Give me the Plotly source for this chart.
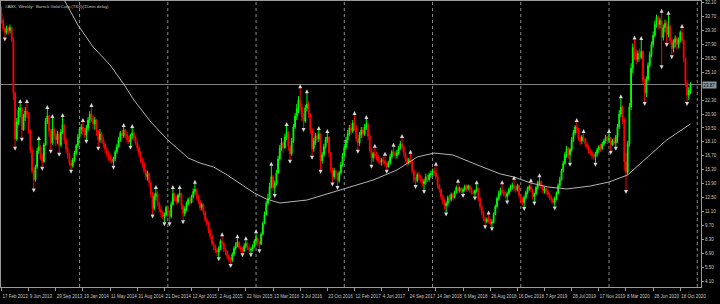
import pandas as pd
import plotly.graph_objects as go

# ---------------- data ----------------
title_text = "#ABX, Weekly:  Barrick Gold Corp (TSX)(15min delay)"
first_open = 31.0

close = [
 30.3, 29.5, 29.1, 29.5, 29.3, 29.6, 28.4, 23.0, 18.4, 20.1,
 21.3, 21.5, 19.3, 20.6, 21.2, 20.9, 19.2, 17.3, 15.2, 14.3,
 15.6, 17.2, 17.6, 16.6, 16.1, 17.8, 20.2, 20.7, 19.2, 18.0,
 19.4, 18.7, 18.3, 18.9, 17.8, 19.1, 19.8, 18.3, 17.4, 16.8,
 16.0, 15.7, 16.3, 17.0, 17.7, 18.6, 19.4, 19.6, 19.2, 18.8,
 19.5, 20.3, 20.9, 20.5, 19.9, 20.3, 19.2, 18.3, 18.9, 18.4,
 17.9, 17.4, 17.0, 16.6, 16.3, 16.1, 16.4, 17.1, 17.6, 18.3,
 19.0, 18.7, 19.3, 18.9, 18.3, 18.1, 18.8, 19.0, 18.5, 18.0,
 17.5, 17.0, 16.3, 15.9, 15.2, 14.6, 14.9, 14.0, 12.9, 11.4,
 12.6, 12.9, 11.9, 11.3, 11.0, 10.6, 10.8, 11.5, 11.0, 10.6,
 11.8, 12.9, 12.4, 12.1, 12.7, 12.9, 11.7, 10.9, 11.4, 11.9,
 12.3, 12.0, 12.6, 13.1, 13.3, 12.6, 12.1, 11.5, 11.8, 11.0,
 10.3, 9.9, 9.2, 8.6, 7.9, 7.6, 7.2, 7.0, 7.4, 8.1,
 7.9, 7.3, 7.1, 6.6, 6.3, 6.2, 6.8, 7.4, 7.7, 8.0,
 7.5, 7.3, 7.1, 7.6, 7.9, 7.4, 7.2, 7.3, 7.6, 8.1,
 8.4, 7.9, 7.8, 8.8, 9.9, 10.8, 11.9, 12.4, 13.6, 14.6,
 13.5, 13.9, 15.0, 16.4, 17.5, 18.0, 17.5, 18.6, 19.1, 17.6,
 16.9, 18.2, 19.6, 20.7, 21.4, 22.3, 21.6, 20.6, 20.2, 21.5,
 21.9, 20.9, 19.3, 17.4, 18.2, 18.7, 18.4, 18.9, 16.2, 16.8,
 17.6, 18.3, 18.6, 17.0, 15.4, 14.6, 15.2, 14.9, 14.2, 15.0,
 15.8, 16.7, 17.5, 18.3, 18.9, 19.5, 19.2, 20.0, 19.6, 18.4,
 18.0, 18.8, 19.3, 18.9, 19.6, 19.9, 18.7, 17.3, 16.5, 16.9,
 16.8, 16.6, 16.2, 16.1, 16.3, 16.2, 15.9, 15.6, 16.0, 16.6,
 17.1, 17.0, 16.7, 17.0, 17.5, 17.9, 17.6, 17.0, 16.4, 16.0,
 16.3, 16.2, 15.2, 14.3, 14.2, 14.8, 14.6, 14.3, 13.9, 14.1,
 14.6, 14.3, 14.8, 14.9, 15.2, 15.0, 14.6, 13.7, 13.3, 12.6,
 12.2, 11.7, 11.9, 12.5, 12.3, 12.8, 12.5, 13.0, 13.5, 13.2,
 13.4, 13.1, 13.3, 13.6, 13.4, 13.7, 13.3, 13.0, 12.9, 13.2,
 13.4, 12.4, 11.6, 11.0, 10.4, 10.1, 10.3, 10.2, 9.9, 10.0,
 10.8, 11.6, 12.4, 12.9, 13.2, 13.0, 12.9, 12.6, 12.9, 13.3,
 13.6, 13.7, 13.4, 13.3, 13.7, 12.7, 12.2, 12.0, 12.5, 13.0,
 13.4, 13.6, 13.3, 12.6, 12.9, 13.5, 14.0, 14.1, 13.6, 13.2,
 13.4, 13.1, 12.8, 12.5, 12.3, 12.0, 12.4, 12.9, 13.7, 14.3,
 15.2, 15.9, 16.8, 17.4, 16.8, 17.3, 18.3, 19.0, 19.6, 19.3,
 18.5, 18.2, 18.6, 18.4, 17.9, 17.6, 17.2, 17.0, 16.7, 16.6,
 16.9, 17.3, 17.6, 17.4, 17.9, 18.2, 18.6, 18.3, 18.5, 17.8,
 18.2, 18.0, 18.6, 19.6, 20.9, 21.6, 20.3, 16.1, 15.0, 17.9,
 21.6, 25.5, 27.6, 27.0, 26.4, 27.0, 26.6, 27.2, 24.3, 23.0,
 24.4, 25.8, 26.9, 27.9, 28.8, 29.9, 30.6, 29.9, 30.3, 28.6,
 29.6, 30.0, 28.9, 29.7, 28.3, 27.5, 28.1, 28.5, 27.9, 28.4,
 29.1, 28.3, 26.5, 24.0, 22.8, 23.3, 23.87,
]

high = [
 31.7, 30.5, 29.7, 29.8, 29.7, 29.9, 29.7, 28.6, 23.2, 20.5,
 21.6, 22.0, 21.6, 20.9, 21.6, 22.0, 21.1, 19.4, 17.6, 15.5,
 15.8, 17.5, 18.3, 17.8, 16.9, 18.0, 20.5, 21.4, 20.8, 19.4,
 20.5, 19.6, 19.0, 19.2, 19.1, 19.4, 20.6, 19.9, 18.5, 17.6,
 17.0, 16.3, 16.5, 17.2, 17.9, 18.9, 19.6, 19.9, 20.1, 19.5,
 19.8, 20.6, 21.2, 21.6, 20.8, 20.6, 20.4, 19.3, 19.4, 19.1,
 18.6, 18.1, 17.6, 17.2, 16.9, 16.6, 16.6, 17.3, 17.9, 18.6,
 19.2, 19.3, 19.6, 19.4, 19.1, 18.7, 18.9, 19.5, 19.2, 18.7,
 18.2, 17.7, 17.2, 16.5, 16.1, 15.4, 15.2, 15.0, 14.2, 13.1,
 12.9, 13.35, 13.1, 12.1, 11.6, 11.2, 11.0, 11.7, 11.7, 11.2,
 12.1, 13.35, 13.0, 12.7, 12.9, 13.35, 13.0, 11.8, 11.6, 12.1,
 12.5, 12.6, 12.8, 13.4, 13.9, 13.4, 12.8, 12.3, 12.0, 11.9,
 11.2, 10.5, 10.1, 9.4, 8.8, 8.1, 7.8, 7.4, 7.6, 8.3,
 8.6, 8.0, 7.5, 7.2, 6.8, 6.5, 7.0, 7.6, 8.0, 8.4,
 8.1, 7.7, 7.5, 7.9, 8.2, 8.0, 7.6, 7.5, 7.8, 8.3,
 8.9, 8.5, 8.1, 9.0, 10.1, 11.1, 12.2, 12.9, 14.0, 15.7,
 14.8, 14.2, 15.3, 16.7, 17.8, 18.5, 18.2, 18.9, 19.7, 19.2,
 17.8, 18.5, 19.9, 21.0, 21.9, 22.7, 23.5, 21.9, 21.0, 21.8,
 23.0, 22.2, 21.0, 19.5, 18.5, 19.0, 19.0, 19.3, 19.0, 17.1,
 17.9, 18.6, 19.0, 18.6, 17.1, 15.5, 15.5, 15.3, 15.0, 15.2,
 16.1, 17.0, 17.9, 18.6, 19.3, 19.8, 20.0, 20.3, 20.8, 19.8,
 18.8, 19.1, 19.6, 19.6, 19.9, 20.4, 20.0, 18.9, 17.5, 17.1,
 17.5, 17.1, 16.8, 16.5, 16.5, 16.6, 16.7, 16.1, 16.2, 16.9,
 17.3, 17.6, 17.2, 17.3, 17.7, 18.2, 18.5, 17.8, 17.1, 16.6,
 16.5, 16.9, 16.3, 15.3, 14.6, 15.0, 15.1, 14.8, 14.4, 14.4,
 14.9, 14.8, 15.0, 15.2, 15.4, 15.5, 15.7, 14.7, 13.9, 13.4,
 12.8, 12.4, 12.1, 12.7, 12.8, 13.0, 13.0, 13.2, 13.7, 14.0,
 13.6, 13.5, 13.5, 13.8, 13.8, 13.8, 13.7, 13.5, 13.2, 13.3,
 13.85, 13.5, 12.5, 11.7, 11.1, 10.6, 10.5, 10.8, 10.4, 10.3,
 11.0, 11.8, 12.6, 13.2, 13.5, 13.85, 13.3, 13.1, 13.1, 13.5,
 13.8, 14.0, 14.3, 13.7, 13.9, 13.8, 12.8, 12.5, 12.7, 13.2,
 13.6, 13.8, 14.05, 13.4, 13.0, 13.7, 14.2, 14.55, 14.2, 13.8,
 13.6, 13.5, 13.3, 13.0, 12.7, 12.5, 12.6, 13.1, 13.9, 14.6,
 15.4, 16.2, 17.1, 17.7, 17.6, 17.5, 18.6, 19.3, 19.8, 20.1,
 19.5, 18.7, 18.8, 19.0, 18.5, 18.1, 17.8, 17.4, 17.2, 16.9,
 17.1, 17.5, 17.8, 17.9, 18.1, 18.4, 18.8, 18.7, 19.0, 18.6,
 18.4, 18.5, 18.8, 19.9, 21.3, 22.5, 21.8, 20.5, 17.0, 18.2,
 22.0, 26.0, 28.0, 28.4, 27.4, 27.3, 27.5, 28.35, 27.3, 24.5,
 24.7, 26.1, 27.2, 28.2, 29.2, 30.3, 30.9, 30.8, 30.6, 31.1,
 29.9, 30.4, 30.3, 30.9, 29.9, 28.5, 28.4, 28.8, 28.7, 28.6,
 29.3, 29.55, 28.4, 26.6, 24.3, 23.6, 24.1,
]

low = [
 30.0, 29.2, 28.6, 28.9, 28.9, 29.0, 28.1, 22.3, 17.6, 18.2,
 19.8, 20.6, 18.5, 19.2, 20.2, 20.5, 18.9, 17.0, 14.9, 13.4,
 14.1, 15.4, 16.9, 16.3, 15.6, 16.0, 17.7, 19.9, 18.6, 17.3,
 17.8, 18.3, 17.7, 17.9, 17.0, 17.6, 18.9, 17.9, 17.0, 16.4,
 15.7, 15.3, 15.5, 16.1, 16.8, 17.5, 18.4, 18.9, 18.8, 18.5,
 18.3, 19.2, 20.0, 20.1, 19.4, 19.3, 18.7, 17.6, 18.0, 18.0,
 17.5, 17.0, 16.6, 16.2, 16.0, 15.9, 15.7, 16.2, 16.9, 17.5,
 18.1, 18.4, 18.5, 18.5, 18.0, 17.9, 17.7, 18.4, 18.2, 17.8,
 17.2, 16.6, 16.0, 15.5, 14.9, 14.3, 14.2, 13.6, 12.5, 10.8,
 11.2, 12.2, 11.6, 11.0, 10.5, 10.3, 10.0, 10.6, 10.5, 10.0,
 10.4, 11.7, 12.1, 11.8, 11.9, 12.5, 11.3, 10.2, 10.6, 11.1,
 11.7, 11.7, 11.9, 12.4, 12.8, 12.3, 11.8, 11.2, 11.2, 10.7,
 10.0, 9.6, 8.9, 8.3, 7.6, 7.2, 6.9, 6.6, 6.5, 7.2,
 7.6, 7.0, 6.7, 6.3, 6.0, 5.8, 6.0, 6.6, 7.2, 7.5,
 7.3, 7.0, 6.9, 7.0, 7.4, 7.2, 7.0, 6.9, 7.1, 7.4,
 7.9, 7.6, 7.3, 7.7, 8.7, 9.8, 10.7, 11.7, 12.3, 13.4,
 13.2, 12.85, 13.7, 14.9, 16.2, 17.2, 17.0, 17.4, 18.3, 17.2,
 16.3, 16.7, 18.0, 19.4, 20.3, 21.0, 21.2, 20.2, 19.5, 20.0,
 21.2, 20.5, 18.9, 16.7, 17.1, 17.8, 18.0, 18.1, 15.3, 15.9,
 16.6, 17.4, 18.0, 16.6, 15.0, 14.0, 14.3, 14.4, 13.65, 14.0,
 14.8, 15.6, 16.5, 17.3, 18.0, 18.7, 18.8, 19.0, 19.2, 18.1,
 17.3, 17.7, 18.5, 18.5, 18.7, 19.3, 18.3, 17.0, 15.8, 16.1,
 16.4, 16.2, 15.9, 15.8, 15.7, 15.8, 15.6, 15.3, 15.5, 15.8,
 16.4, 16.7, 16.4, 16.4, 16.8, 17.3, 17.2, 16.6, 16.1, 15.6,
 15.8, 15.9, 14.9, 14.0, 13.75, 14.0, 14.2, 14.0, 13.6, 13.25,
 13.8, 14.0, 14.1, 14.5, 14.7, 14.7, 14.3, 13.4, 13.0, 12.3,
 11.8, 11.3, 11.0, 11.6, 12.0, 12.1, 12.2, 12.4, 12.9, 12.9,
 13.0, 12.95, 12.85, 13.1, 13.1, 13.2, 13.0, 12.8, 12.7, 12.6,
 13.0, 12.1, 11.3, 10.7, 10.1, 9.7, 9.9, 9.9, 9.7, 9.5,
 9.9, 10.7, 11.4, 12.2, 12.7, 12.8, 12.6, 12.4, 12.2, 12.7,
 13.1, 13.3, 13.1, 13.0, 13.1, 12.4, 11.9, 11.7, 11.55, 12.3,
 12.8, 13.2, 13.0, 12.3, 12.1, 12.7, 13.3, 13.7, 13.3, 12.9,
 12.9, 12.8, 12.5, 12.2, 12.0, 11.8, 11.6, 12.2, 12.8, 13.5,
 14.2, 15.0, 15.8, 16.5, 16.4, 16.0, 17.1, 18.1, 18.8, 18.9,
 18.2, 17.8, 17.9, 18.1, 17.6, 17.3, 16.9, 16.7, 16.4, 16.3,
 16.0, 16.6, 17.0, 17.1, 17.3, 17.7, 18.0, 17.9, 18.0, 17.2,
 17.7, 17.8, 17.6, 18.0, 19.4, 20.6, 19.9, 15.2, 13.25, 14.8,
 17.6, 21.3, 25.0, 26.3, 25.9, 26.1, 26.2, 26.4, 23.9, 22.1,
 22.6, 24.2, 25.6, 26.6, 27.6, 28.6, 29.6, 29.4, 29.5, 25.8,
 28.3, 29.1, 28.05, 28.6, 27.9, 26.8, 27.1, 27.6, 27.4, 27.5,
 28.1, 28.0, 26.1, 23.6, 22.1, 22.3, 22.9,
]

# Bill Williams fractal arrows (week numbers, counted from the first bar)
up_fractal_weeks = [11, 15, 22, 27, 30, 36, 48, 53, 72, 77, 91, 101, 105, 114, 130,
                    139, 144, 150, 159, 168, 176, 180, 187, 192, 208, 215, 220, 226,
                    231, 236, 241, 256, 269, 280, 287, 295, 302, 312, 317, 339, 343,
                    358, 365, 373, 377, 389, 393, 401]
down_fractal_weeks = [2, 8, 12, 19, 24, 29, 34, 41, 50, 57, 66, 76, 89, 96, 99, 107,
                      128, 135, 142, 147, 152, 161, 170, 178, 183, 188, 195, 198, 210,
                      218, 227, 244, 249, 262, 272, 279, 285, 289, 298, 308, 314, 326,
                      335, 350, 359, 362, 368, 379, 389, 392, 395, 404]

# long moving average (gray curve)
ma_week = [0, 37, 45, 54, 64, 72, 78, 88, 98, 110, 117, 125, 133, 141, 149, 156, 164,
           180, 200, 219, 233, 245, 255, 266, 282, 294, 302, 312, 322, 333, 347, 358,
           369, 381, 392, 406]
ma_value = [38.4, 32.37, 29.86, 27.64, 25.83, 23.92, 22.31, 20.10, 18.29, 16.48, 15.97,
            15.57, 14.77, 13.86, 12.95, 12.35, 11.95, 12.25, 13.26, 14.26, 15.27, 16.58,
            16.98, 16.78, 15.67, 14.87, 14.56, 13.96, 13.56, 13.36, 13.66, 14.06, 14.77,
            16.58, 18.29, 19.90]

date_labels = ["17 Feb 2013", "9 Jun 2013", "29 Sep 2013", "19 Jan 2014", "11 May 2014",
               "31 Aug 2014", "21 Dec 2014", "12 Apr 2015", "2 Aug 2015", "22 Nov 2015",
               "13 Mar 2016", "3 Jul 2016", "23 Oct 2016", "12 Feb 2017", "4 Jun 2017",
               "24 Sep 2017", "14 Jan 2018", "6 May 2018", "26 Aug 2018", "16 Dec 2018",
               "7 Apr 2019", "28 Jul 2019", "17 Nov 2019", "8 Mar 2020", "28 Jun 2020",
               "18 Oct 2020"]
price_ticks = ["4.10", "5.50", "6.90", "8.30", "9.70", "11.10", "12.50", "13.90", "15.30",
               "16.70", "18.10", "19.50", "20.90", "22.30", "25.10", "26.50", "27.90",
               "29.30", "30.70", "32.10"]
grid_dates = ["2014-01-05", "2015-01-04", "2016-01-03", "2017-01-01", "2017-12-31",
              "2018-12-30", "2019-12-29", "2020-12-27"]
last_price_label = "23.87"

# ---------------- build ----------------
weeks = pd.date_range("2013-02-17", periods=len(close), freq="7D")
opens = [first_open] + close[:-1]
high = [max(h, o, c) for h, o, c in zip(high, opens, close)]
low = [min(l, o, c) for l, o, c in zip(low, opens, close)]

GREEN = "#00ff00"
RED = "#ff0000"
FG = "#c8c8c8"
FRAME = "#9a9a9a"

fig = go.Figure()
fig.add_trace(go.Candlestick(
    x=weeks, open=opens, high=high, low=low, close=close,
    increasing=dict(line=dict(color=GREEN, width=1), fillcolor=GREEN),
    decreasing=dict(line=dict(color=RED, width=1), fillcolor=RED),
    whiskerwidth=0, showlegend=False, hoverinfo="skip"))

fig.add_trace(go.Scatter(
    x=[weeks[i] for i in ma_week], y=ma_value, mode="lines",
    line=dict(color="#b4b4b4", width=1), showlegend=False, hoverinfo="skip"))

pad = 0.40
fig.add_trace(go.Scatter(
    x=[weeks[i] for i in up_fractal_weeks], y=[high[i] + pad for i in up_fractal_weeks],
    mode="markers", marker=dict(symbol="arrow-up", size=4, color="#d8d8d8"),
    showlegend=False, hoverinfo="skip"))
fig.add_trace(go.Scatter(
    x=[weeks[i] for i in down_fractal_weeks], y=[low[i] - pad for i in down_fractal_weeks],
    mode="markers", marker=dict(symbol="arrow-down", size=4, color="#d8d8d8"),
    showlegend=False, hoverinfo="skip"))

shapes = []
for d in grid_dates:
    shapes.append(dict(type="line", xref="x", yref="paper", x0=d, x1=d, y0=0, y1=1,
                       line=dict(color="#8a8a8a", width=1, dash="dot"), layer="below"))
shapes.append(dict(type="line", xref="paper", yref="y", x0=0, x1=1,
                   y0=float(last_price_label), y1=float(last_price_label),
                   line=dict(color="#808080", width=1), layer="below"))

tick_dates = [pd.to_datetime(s, format="%d %b %Y") for s in date_labels]

fig.update_layout(
    width=720, height=304,
    margin=dict(l=1, r=19, t=1, b=17),
    paper_bgcolor="#000000", plot_bgcolor="#000000",
    font=dict(family="Liberation Sans, Arial, sans-serif", size=4.5, color=FG),
    shapes=shapes,
    xaxis=dict(
        type="date", range=["2013-02-14 22:00", "2021-01-11 10:00"],
        rangeslider=dict(visible=False), showgrid=False, zeroline=False,
        tickvals=tick_dates, ticktext=date_labels, ticklabelposition="outside right",
        tickangle=0, ticks="outside", ticklen=3, tickcolor=FRAME, tickwidth=1,
        ticklabelstandoff=5,
        tickfont=dict(size=4.5, color=FG),
        showline=True, linecolor=FRAME, linewidth=1, mirror=True),
    yaxis=dict(
        side="right", range=[3.50, 32.27], showgrid=False, zeroline=False,
        tickvals=[float(t) for t in price_ticks], ticktext=price_ticks,
        ticks="outside", ticklen=2, tickcolor=FRAME, tickwidth=1,
        tickfont=dict(size=4.5, color=FG),
        showline=True, linecolor=FRAME, linewidth=1, mirror=True),
    annotations=[
        dict(text=title_text, xref="paper", yref="paper", x=0, y=1, xanchor="left",
             yanchor="top", xshift=2, yshift=-1, showarrow=False,
             font=dict(size=4.3, color=FG)),
        dict(text=last_price_label, xref="paper", yref="y", x=1, y=float(last_price_label),
             xanchor="left", yanchor="middle", xshift=1, showarrow=False,
             bgcolor="#8c959e", borderpad=0.5, font=dict(size=4.5, color="#000000")),
    ],
)

fig.write_html("out.html")
